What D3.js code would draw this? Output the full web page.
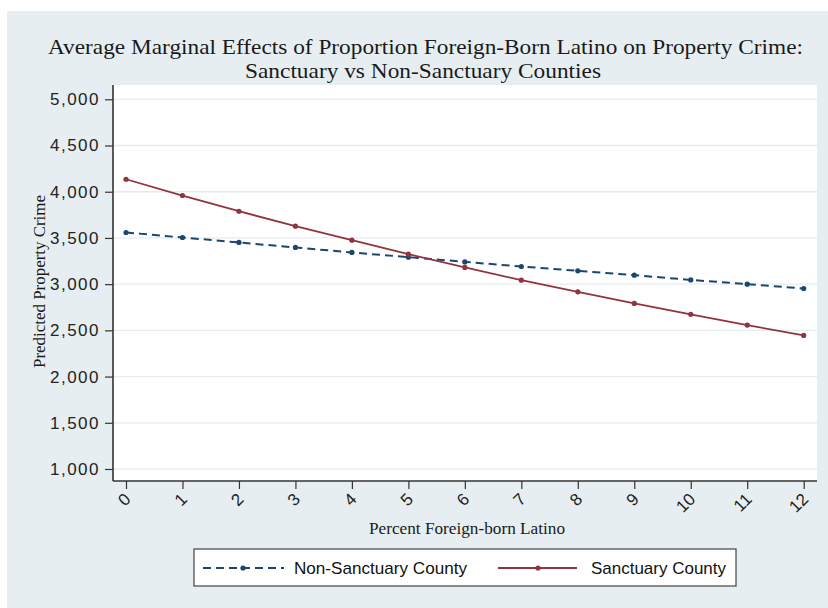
<!DOCTYPE html>
<html>
<head>
<meta charset="utf-8">
<script src="https://cdn.jsdelivr.net/npm/d3@7"></script>
<style>
  html, body { margin: 0; padding: 0; background: #ffffff; }
  svg { display: block; }
</style>
</head>
<body>
<svg id="chart" width="828" height="608"></svg>
<script>
// ---- data ----
const xValues = [0, 1, 2, 3, 4, 5, 6, 7, 8, 9, 10, 11, 12];
const nonSanctuary = [3559, 3505, 3451, 3397, 3343, 3292, 3241, 3191, 3144, 3097, 3046, 3000, 2953];
const sanctuary = [4135, 3959, 3789, 3627, 3476, 3324, 3181, 3043, 2917, 2791, 2673, 2557, 2445];
const yTicks = [1000, 1500, 2000, 2500, 3000, 3500, 4000, 4500, 5000];
const seriesNames = ["Non-Sanctuary County", "Sanctuary County"];
const titleLines = ["Average Marginal Effects of Proportion Foreign-Born Latino on Property Crime:", "Sanctuary vs Non-Sanctuary Counties"];
const xTitle = "Percent Foreign-born Latino";
const yTitle = "Predicted Property Crime";

const navy = "#1a476f", maroon = "#90353b", bg = "#e6eef1";

const svg = d3.select("#chart");

// background region
svg.append("rect").attr("x", 7).attr("y", 11).attr("width", 821).attr("height", 597).attr("fill", bg);

// plot region
const plot = { left: 113, right: 817, top: 85, bottom: 481 };
svg.append("rect").attr("x", plot.left).attr("y", plot.top)
  .attr("width", plot.right - plot.left).attr("height", plot.bottom - plot.top).attr("fill", "#ffffff");

const x = d3.scaleLinear().domain([0, 12]).range([126, 803.7]);
const y = d3.scaleLinear().domain([1000, 5000]).range([469, 99.3]);

// gridlines
svg.append("g").selectAll("line").data(yTicks).join("line")
  .attr("x1", plot.left).attr("x2", plot.right)
  .attr("y1", d => y(d)).attr("y2", d => y(d))
  .attr("stroke", "#e4ecf0").attr("stroke-width", 1.3);

// y axis
const yAxis = svg.append("g").attr("transform", `translate(${plot.left},0)`)
  .call(d3.axisLeft(y).tickValues(yTicks).tickFormat(d3.format(",")).tickSize(8).tickPadding(5).tickSizeOuter(0));
yAxis.select(".domain").attr("d", `M0,${plot.top}V${plot.bottom}`).attr("stroke", "#333").attr("stroke-width", 1.6);
yAxis.selectAll(".tick line").attr("stroke", "#333").attr("stroke-width", 1.2);
yAxis.selectAll(".tick text").attr("font-family", "'Liberation Sans', Arial, sans-serif")
  .attr("font-size", 17).attr("fill", "#222").style("letter-spacing", "1.5px");

// x axis
const xAxis = svg.append("g").attr("transform", `translate(0,${plot.bottom})`)
  .call(d3.axisBottom(x).tickValues(xValues).tickFormat(d3.format("d")).tickSize(8).tickSizeOuter(0));
xAxis.select(".domain").attr("d", `M${plot.left},0H${plot.right}`).attr("stroke", "#333").attr("stroke-width", 1.6);
xAxis.selectAll(".tick line").attr("stroke", "#333").attr("stroke-width", 1.2);
xAxis.selectAll(".tick text")
  .attr("font-family", "'Liberation Sans', Arial, sans-serif").attr("font-size", 17).attr("fill", "#222")
  .attr("text-anchor", "end").attr("dy", "0.35em").attr("y", 0)
  .attr("transform", "translate(1,15) rotate(-45)");

// lines
const line = d3.line().x((d, i) => x(xValues[i])).y(d => y(d));

svg.append("path").datum(nonSanctuary).attr("d", line)
  .attr("fill", "none").attr("stroke", navy).attr("stroke-width", 2).attr("stroke-dasharray", "8,5");
svg.append("g").selectAll("circle").data(nonSanctuary).join("circle")
  .attr("cx", (d, i) => x(xValues[i])).attr("cy", d => y(d)).attr("r", 2.6).attr("fill", navy);

svg.append("path").datum(sanctuary).attr("d", line)
  .attr("fill", "none").attr("stroke", maroon).attr("stroke-width", 1.8);
svg.append("g").selectAll("circle").data(sanctuary).join("circle")
  .attr("cx", (d, i) => x(xValues[i])).attr("cy", d => y(d)).attr("r", 2.6).attr("fill", maroon);

// titles
const serif = "'Liberation Serif', 'Times New Roman', serif";
svg.append("text").attr("x", 425.5).attr("y", 54).attr("text-anchor", "middle")
  .attr("font-family", serif).attr("font-size", 22).attr("fill", "#1a1a1a")
  .attr("textLength", 755).attr("lengthAdjust", "spacingAndGlyphs").text(titleLines[0]);
svg.append("text").attr("x", 423).attr("y", 78).attr("text-anchor", "middle")
  .attr("font-family", serif).attr("font-size", 22).attr("fill", "#1a1a1a")
  .attr("textLength", 356).attr("lengthAdjust", "spacingAndGlyphs").text(titleLines[1]);

svg.append("text").attr("x", 467).attr("y", 534).attr("text-anchor", "middle")
  .attr("font-family", serif).attr("font-size", 16).attr("fill", "#1a1a1a")
  .attr("textLength", 196).attr("lengthAdjust", "spacingAndGlyphs").text(xTitle);

svg.append("text").attr("transform", "translate(45,281.5) rotate(-90)").attr("text-anchor", "middle")
  .attr("font-family", serif).attr("font-size", 16).attr("fill", "#1a1a1a")
  .attr("textLength", 173).attr("lengthAdjust", "spacingAndGlyphs").text(yTitle);

// legend
const legend = svg.append("g");
legend.append("rect").attr("x", 194).attr("y", 549).attr("width", 542).attr("height", 37)
  .attr("fill", "#ffffff").attr("stroke", "#444").attr("stroke-width", 1.2);
const legendItems = [
  { name: seriesNames[0], color: navy, dash: "8,5", x1: 203, x2: 284, mx: 243, tx: 294, tl: 173 },
  { name: seriesNames[1], color: maroon, dash: null, x1: 498, x2: 577, mx: 538, tx: 591, tl: 135 }
];
legendItems.forEach(it => {
  legend.append("line").attr("x1", it.x1).attr("x2", it.x2).attr("y1", 568).attr("y2", 568)
    .attr("stroke", it.color).attr("stroke-width", it.dash ? 2 : 1.8).attr("stroke-dasharray", it.dash);
  legend.append("circle").attr("cx", it.mx).attr("cy", 568).attr("r", 2.6).attr("fill", it.color);
  legend.append("text").attr("x", it.tx).attr("y", 574)
    .attr("font-family", "'Liberation Sans', Arial, sans-serif").attr("font-size", 17).attr("fill", "#111")
    .attr("textLength", it.tl).attr("lengthAdjust", "spacingAndGlyphs").text(it.name);
});
</script>
</body>
</html>
